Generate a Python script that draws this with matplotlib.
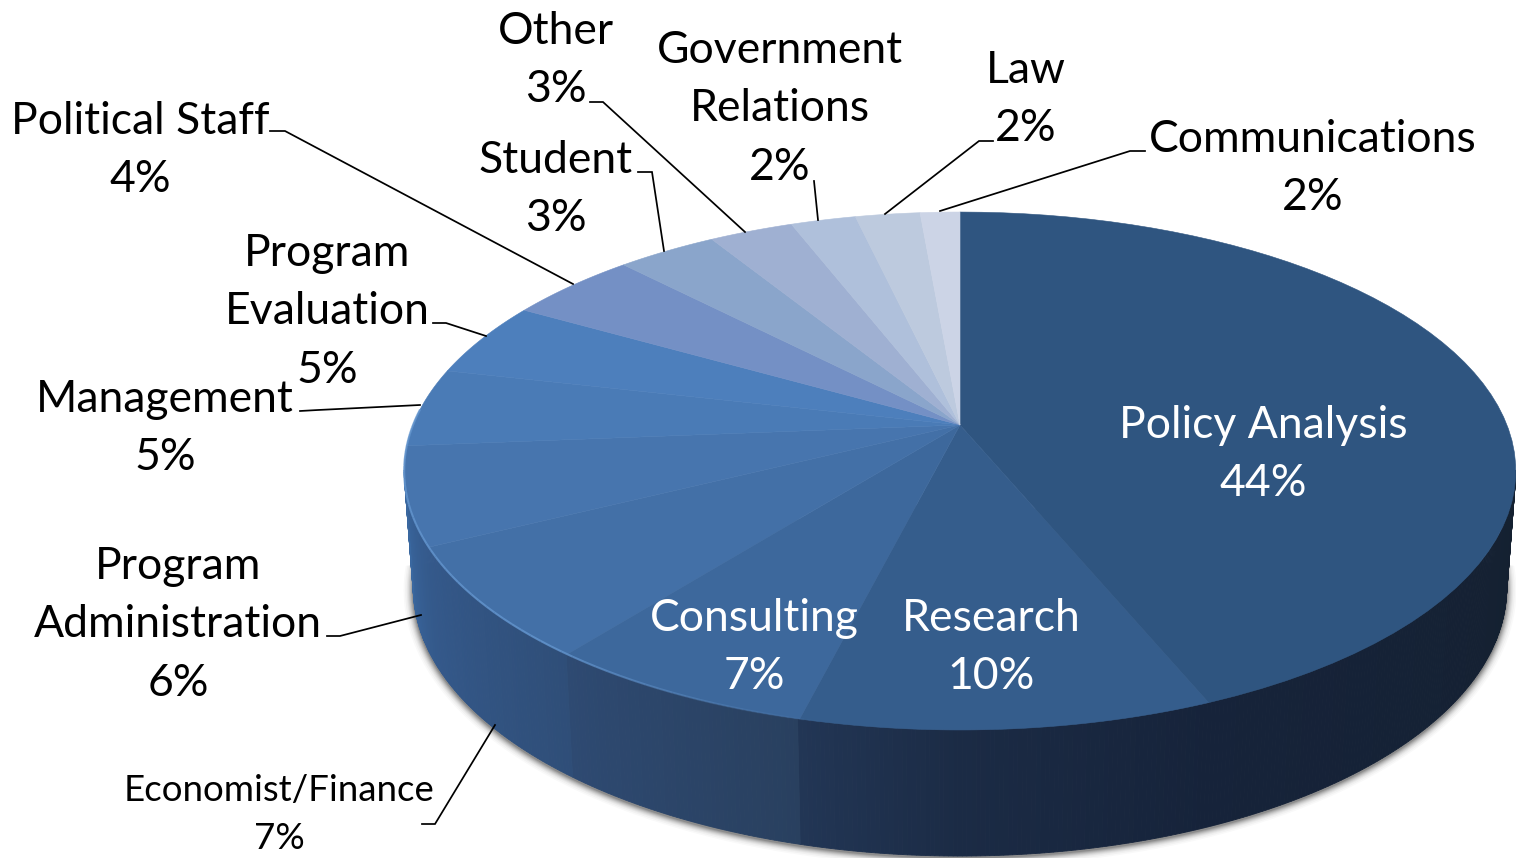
import numpy as np
import matplotlib
matplotlib.use("Agg")
import matplotlib.pyplot as plt
from matplotlib.colors import to_rgb

# data
categories = ["Policy Analysis", "Research", "Consulting", "Economist/Finance",
              "Program\nAdministration", "Management", "Program\nEvaluation",
              "Political Staff", "Student", "Other", "Government\nRelations",
              "Law", "Communications"]
values = [44, 10, 7, 7, 6, 5, 5, 4, 3, 3, 2, 2, 2]          # printed labels
slice_shares = [43.8, 10.1, 6.7, 7.0, 6.1, 4.9, 4.7, 4.5, 3.45, 2.9, 2.25, 2.23, 1.37]  # as drawn

# styles
top_colors = ["#2f5580", "#355d8c", "#3d689c", "#4370a7", "#4775ae", "#4a7bb6", "#4d7fbc",
              "#7490c5", "#8aa5cb", "#9fb0d2", "#afc0db", "#bdcade", "#ccd4e6"]
label_colors = ["white"] * 3 + ["black"] * 10
label_x = [1263, 991, 754, 279, 178, 165, 327, 140, 556, 556, 780, 1026, 1313]
label_base = [438, 631, 631, 801, 579, 412, 266, 134, 173, 44, 63, 83, 152]
label_size = [32] * 3 + [26.4] + [32] * 9
label_pitch = [58.3] * 3 + [48] + [58.3] * 9
leaders = {
    3: [(422, 824), (435, 824), (495, 725)],
    4: [(327, 636), (340, 636), (421, 615)],
    5: [(300, 411), (318, 410), (420, 405)],
    6: [(433, 323), (446, 323), (486, 336)],
    7: [(270, 131), (285, 131), (573, 284)],
    8: [(638, 172), (652, 172), (664, 251)],
    9: [(590, 102), (603, 102), (745, 232)],
    10: [(814, 181), (818, 220)],
    11: [(993, 141), (979, 141), (885, 214)],
    12: [(1145, 151), (1130, 151), (940, 211)],
}
# side shade stops: (cumulative percent, colour)
side_stops = [(27, "#14202f"), (43.8, "#16233a"), (50, "#1b2b45"), (53.9, "#223655"), (53.91, "#29405f"),
              (60.6, "#2e4a72"), (60.61, "#2f4e78"), (67.6, "#34598b"), (72, "#3a68a0"), (76, "#3d6ea9")]

K = 0.1776
CX = 960
TOP = dict(ay=425.0, a=547.0, b=250.8)
BOT = dict(ay=540.5, a=538.0, b=259.5)


def project(theta, ay, a, b):
    X, Y = np.sin(theta), np.cos(theta)
    d = 1 + K * Y
    return CX + a * X / d, ay - b * Y / d


fig = plt.figure(figsize=(15.16, 8.58), dpi=100)
ax = fig.add_axes([0, 0, 1, 1])
ax.set_xlim(0, 1516)
ax.set_ylim(858, 0)
ax.axis("off")
plt.rcParams["font.family"] = ["Lato", "DejaVu Sans"]

# soft shadow beneath the body
th = np.linspace(np.radians(95), np.radians(265), 200)
bx, by = project(th, **BOT)
for off, alpha in zip([9, 7.5, 6, 5, 4, 3, 2, 1], [.025, .03, .04, .05, .07, .09, .11, .14]):
    nx = np.sin(th) * off * 1.1
    ny = np.abs(np.cos(th)) * off + 1.5
    px = np.r_[bx + nx, CX]
    py = np.r_[by + ny, 500]
    ax.fill(px, py, color="black", alpha=alpha, lw=0, zorder=1)

# side wall
stop_p = [s[0] for s in side_stops]
stop_c = np.array([to_rgb(s[1]) for s in side_stops])
p = np.linspace(100 / 3.6, 260 / 3.6, 400)
for p0, p1 in zip(p[:-1], p[1:]):
    t = np.radians(np.array([p0, p1]) * 3.6)
    x0, y0 = project(t, **TOP)
    x1, y1 = project(t, **BOT)
    c = [np.interp((p0 + p1) / 2, stop_p, stop_c[:, i]) for i in range(3)]
    ax.fill(np.r_[x0, x1[::-1]], np.r_[y0, y1[::-1]], color=c, lw=0.6, zorder=2)

# top face
cum = np.r_[0, np.cumsum(slice_shares)]
for i in range(len(slice_shares)):
    t = np.radians(np.linspace(cum[i], cum[i + 1], 60) * 3.6)
    x, y = project(t, **TOP)
    ax.fill(np.r_[CX, x], np.r_[TOP["ay"], y], color=top_colors[i], ec=top_colors[i], lw=0.4, zorder=3)

# light rim along the front-left edge, fading towards the right
rim = np.linspace(53, 76, 60)
for p0, p1 in zip(rim[:-1], rim[1:]):
    t = np.radians(np.array([p0, p1]) * 3.6)
    x, y = project(t, **TOP)
    a = np.clip((p0 - 53) / 8, 0, 1) * 0.8
    ax.plot(x, y, color="#6496cf", lw=1.5, alpha=a, zorder=4, solid_capstyle="butt")

# leader lines
for pts in leaders.values():
    xs, ys = zip(*pts)
    ax.plot(xs, ys, color="black", lw=1.25, zorder=5, solid_joinstyle="miter")

# labels
for i, (name, v) in enumerate(zip(categories, values)):
    for j, line in enumerate(name.split("\n") + [f"{v}%"]):
        ax.text(label_x[i], label_base[i] + j * label_pitch[i], line, ha="center", va="baseline",
                fontsize=label_size[i], color=label_colors[i], zorder=6)

fig.savefig("out.png", dpi=100, facecolor="white")
